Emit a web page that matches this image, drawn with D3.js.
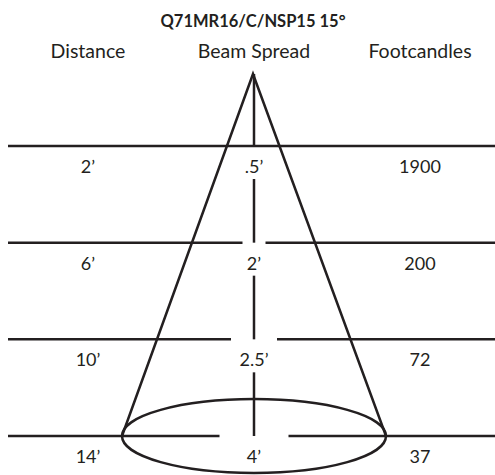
<!DOCTYPE html>
<html>
<head>
<meta charset="utf-8">
<script src="https://cdn.jsdelivr.net/npm/d3@7"></script>
<style>
  body { margin: 0; background: #fff; }
  text { font-family: Lato, "Open Sans", sans-serif; fill: #231f20; }
</style>
</head>
<body>
<div id="chart"></div>
<script>
var title = 'Q71MR16/C/NSP15 15\u00b0';
var headers = ['Distance', 'Beam Spread', 'Footcandles'];
var distances = ['2\u2019', '6\u2019', '10\u2019', '14\u2019'];
var spreads = ['.5\u2019', '2\u2019', '2.5\u2019', '4\u2019'];
var footcandles = ['1900', '200', '72', '37'];

var width = 495, height = 475;
var ink = '#231f20';
var cx = 254;

var svg = d3.select('#chart')
  .append('svg')
  .attr('width', width)
  .attr('height', height);

// columns
var xCol = d3.scalePoint()
  .domain(headers)
  .range([88, 420]);

// rows (line positions)
var yRow = d3.scalePoint()
  .domain(d3.range(distances.length))
  .range([146, 436]);

var apexY = 74;
var lastY = yRow(distances.length - 1);
var rx = 132, ry = 37;

svg.append('text')
  .attr('x', 253)
  .attr('y', 27)
  .attr('text-anchor', 'middle')
  .style('font-weight', 'bold')
  .style('font-size', '16.5px')
  .text(title);

svg.selectAll('.head')
  .data(headers)
  .enter()
  .append('text')
  .attr('class', 'head')
  .attr('x', function(d){ return xCol(d); })
  .attr('y', 58)
  .attr('text-anchor', 'middle')
  .style('font-size', '19.5px')
  .text(function(d){ return d; });

var lines = svg.append('g')
  .attr('stroke', ink)
  .attr('stroke-width', 2.5)
  .attr('fill', 'none');

// horizontal lines with widening gap around the centre
distances.forEach(function(d, i){
  var y = yRow(i);
  var gap = i * 11.5;
  if(gap == 0){
    lines.append('line').attr('x1', 8).attr('x2', width).attr('y1', y).attr('y2', y);
  }
  else{
    lines.append('line').attr('x1', 8).attr('x2', cx - gap).attr('y1', y).attr('y2', y);
    lines.append('line').attr('x1', cx + gap).attr('x2', width).attr('y1', y).attr('y2', y);
  }
});

// centre line segments
lines.append('line')
  .attr('x1', cx).attr('x2', cx)
  .attr('y1', apexY).attr('y2', yRow(0));
d3.range(1, distances.length).forEach(function(i){
  lines.append('line')
    .attr('x1', cx).attr('x2', cx)
    .attr('y1', yRow(i - 1) + 33).attr('y2', yRow(i));
});

// cone
lines.append('path')
  .attr('d', 'M' + (cx - rx) + ',' + lastY + 'L' + (cx - 1) + ',' + apexY + 'L' + (cx + rx) + ',' + lastY)
  .attr('stroke-linejoin', 'miter');

lines.append('ellipse')
  .attr('cx', cx)
  .attr('cy', lastY)
  .attr('rx', rx)
  .attr('ry', ry);

// row labels
var cols = [distances, spreads, footcandles];
cols.forEach(function(col, c){
  svg.selectAll('.c' + c)
    .data(col)
    .enter()
    .append('text')
    .attr('class', 'c' + c)
    .attr('x', xCol(headers[c]))
    .attr('y', function(d, i){ return yRow(i) + 27; })
    .attr('text-anchor', 'middle')
    .style('font-size', '18px')
    .text(function(d){ return d; });
});
</script>
</body>
</html>
